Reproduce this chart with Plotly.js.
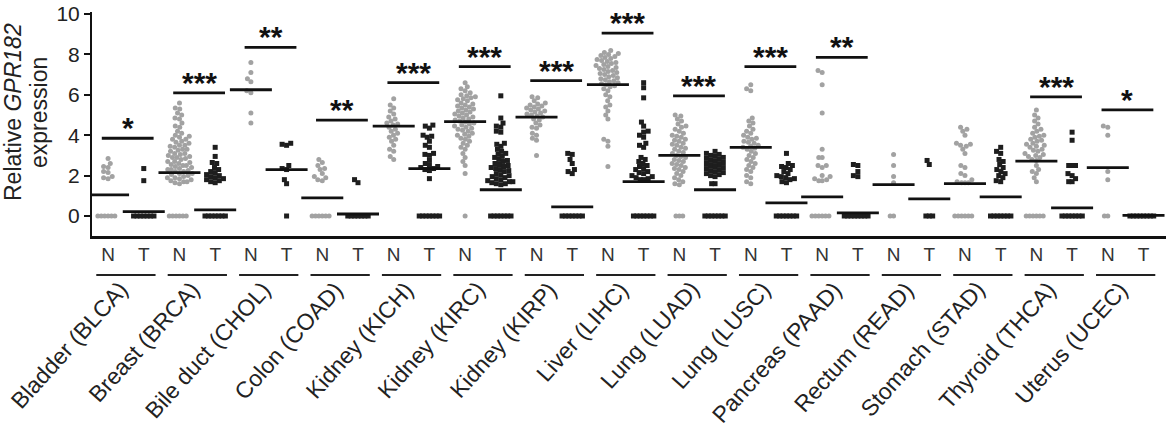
<!DOCTYPE html>
<html>
<head>
<meta charset="utf-8">
<script src="https://cdn.plot.ly/plotly-3.0.1.min.js"></script>
<style>html,body{margin:0;padding:0;background:#fff;}#chart{width:1169px;height:431px;}</style>
</head>
<body>
<div id="chart"></div>
<script>
// ---------------- data ----------------
const cancerTypes = ['Bladder (BLCA)','Breast (BRCA)','Bile duct (CHOL)','Colon (COAD)','Kidney (KICH)',
  'Kidney (KIRC)','Kidney (KIRP)','Liver (LIHC)','Lung (LUAD)','Lung (LUSC)','Pancreas (PAAD)',
  'Rectum (READ)','Stomach (STAD)','Thyroid (THCA)','Uterus (UCEC)'];
const groupLabels = ['N','T'];

const normalValues = [
  [2.85,2.6,2.45,2.4,2.2,2.15,1.95,1.9,1.85,0,0,0,0,0,0],
  [5.6,5.35,5.3,5.1,5.0,4.85,4.8,4.6,4.45,4.4,4.2,4.1,4.0,3.95,3.9,3.8,3.8,3.7,3.65,3.6,3.5,3.5,3.45,3.4,3.3,3.3,3.25,3.2,3.1,3.1,3.05,3.0,2.95,2.9,2.9,2.85,2.8,2.7,2.7,2.65,2.6,2.55,2.5,2.5,2.45,2.4,2.35,2.3,2.3,2.25,2.2,2.2,2.1,2.1,2.05,2.0,1.95,1.9,1.9,1.85,1.8,1.75,1.7,1.7,1.65,1.6,0,0,0,0,0,0],
  [7.6,7.1,6.8,6.65,6.2,6.1,5.1,4.6],
  [2.8,2.65,2.5,2.35,2.3,2.1,1.95,1.9,1.8,1.75,0,0,0,0,0,0],
  [5.8,5.5,5.35,5.2,5.05,4.9,4.8,4.7,4.6,4.55,4.5,4.4,4.3,4.2,4.1,4.0,3.9,3.8,3.7,3.5,3.3,3.2,2.95,2.8],
  [6.6,6.4,6.3,6.2,6.1,6.0,5.95,5.9,5.85,5.8,5.75,5.7,5.6,5.55,5.5,5.45,5.4,5.35,5.3,5.25,5.2,5.15,5.1,5.05,5.0,4.95,4.9,4.85,4.8,4.75,4.7,4.65,4.6,4.55,4.5,4.45,4.4,4.35,4.3,4.25,4.2,4.1,4.05,4.0,3.95,3.85,3.8,3.7,3.6,3.5,3.4,3.3,3.1,2.9,2.7,2.5,2.1,0],
  [5.9,5.85,5.7,5.6,5.55,5.5,5.45,5.4,5.35,5.3,5.25,5.2,5.15,5.1,5.05,5.0,4.95,4.9,4.8,4.75,4.6,4.5,4.4,4.35,4.1,4.0,3.85,3.75,3.0],
  [8.2,8.1,8.05,8.0,7.95,7.9,7.85,7.8,7.75,7.7,7.65,7.6,7.55,7.5,7.45,7.4,7.35,7.3,7.25,7.2,7.15,7.1,7.05,7.0,6.95,6.9,6.85,6.8,6.75,6.7,6.65,6.6,6.55,6.5,6.45,6.4,6.3,6.2,6.0,5.9,5.7,5.5,5.4,5.2,5.0,4.8,3.8,3.7,3.45,2.45],
  [5.0,4.95,4.8,4.7,4.55,4.45,4.4,4.3,4.2,4.1,4.0,3.95,3.9,3.8,3.75,3.7,3.6,3.55,3.5,3.4,3.35,3.3,3.2,3.15,3.1,3.0,2.95,2.9,2.8,2.75,2.7,2.6,2.55,2.5,2.4,2.35,2.3,2.2,2.1,2.0,1.9,1.8,1.7,1.6,1.55,0,0,0],
  [6.5,6.3,6.2,4.85,4.7,4.6,4.45,4.3,4.2,4.1,4.0,3.9,3.85,3.8,3.7,3.65,3.6,3.5,3.45,3.4,3.35,3.3,3.2,3.1,3.0,2.9,2.8,2.7,2.6,2.5,2.4,2.3,2.2,2.0,1.9,1.7,1.6],
  [7.2,7.1,6.5,5.1,3.3,2.9,2.9,2.5,2.5,2.4,2.0,1.95,1.85,1.8,1.75,1.75,0,0,0,0,0,0],
  [3.05,2.5,1.95,1.65,0,0],
  [4.4,4.3,4.2,4.0,3.6,3.55,3.5,3.45,3.3,3.1,2.5,2.4,2.1,2.0,1.8,1.7,1.65,1.65,1.65,0,0,0,0,0,0],
  [5.25,5.0,4.85,4.7,4.55,4.4,4.3,4.2,4.1,4.0,3.95,3.9,3.8,3.75,3.7,3.6,3.55,3.5,3.45,3.4,3.3,3.25,3.2,3.1,3.05,3.0,2.95,2.9,2.8,2.75,2.5,2.3,2.2,2.1,1.9,1.7,0,0,0,0,0,0],
  [4.45,4.4,4.0,2.2,1.8,0,0]
];
const tumorValues = [
  [2.35,1.75,0,0,0,0,0,0,0],
  [3.4,2.95,2.65,2.6,2.4,2.3,2.2,2.15,2.05,2.0,1.95,1.9,1.85,1.8,1.75,1.7,1.65,0,0,0,0,0,0,0],
  [3.6,3.55,3.5,2.5,2.35,2.3,1.8,1.6,0],
  [1.8,1.65,0,0,0,0,0,0,0],
  [4.5,4.45,4.35,4.0,3.95,3.9,3.7,3.5,3.4,3.1,3.05,3.0,2.75,2.6,2.5,2.45,2.4,2.35,2.3,2.25,1.85,0,0,0,0,0,0,0],
  [5.95,4.85,4.6,4.45,4.4,4.2,4.15,3.6,3.55,3.45,3.3,3.2,3.1,3.05,2.95,2.9,2.8,2.75,2.7,2.6,2.55,2.5,2.45,2.4,2.35,2.3,2.25,2.2,2.1,2.05,2.0,1.95,1.9,1.85,1.8,1.75,1.7,1.7,1.65,1.6,1.6,1.55,0,0,0,0,0,0,0],
  [3.1,3.05,2.8,2.6,2.3,2.2,2.1,0,0,0,0,0,0,0],
  [6.6,6.35,5.85,4.65,4.45,4.2,4.15,4.0,3.9,3.6,3.5,3.4,2.9,2.8,2.7,2.6,2.5,2.45,2.35,2.3,2.2,2.15,2.1,2.0,1.95,1.9,1.85,1.8,1.8,0,0,0,0,0,0,0],
  [3.2,3.1,3.05,3.0,2.95,2.9,2.85,2.8,2.75,2.7,2.65,2.6,2.55,2.5,2.45,2.4,2.35,2.3,2.25,2.2,2.15,2.1,2.05,2.0,1.95,1.6,1.6,0,0,0,0,0,0,0],
  [3.1,2.6,2.5,2.45,2.4,2.3,2.2,2.1,2.0,1.95,1.9,1.85,1.8,1.7,1.65,0,0,0,0,0,0,0],
  [2.55,2.5,2.2,2.0,1.95,0,0,0,0,0,0,0,0],
  [2.75,2.55,0,0,0],
  [3.4,3.2,3.1,2.8,2.7,2.55,2.4,2.3,2.2,2.1,2.0,1.9,1.75,1.7,0,0,0,0,0,0,0],
  [4.15,3.75,2.5,2.5,2.5,2.1,2.0,1.85,1.7,1.7,0,0,0,0,0,0,0],
  [0,0,0,0,0,0,0,0]
];
const normalMeans = [1.05,2.15,6.25,0.9,4.45,4.67,4.9,6.5,3.0,3.4,0.95,1.55,1.6,2.72,2.4];
const tumorMeans  = [0.22,0.3,2.3,0.1,2.35,1.3,0.45,1.7,1.3,0.65,0.15,0.85,0.95,0.4,0.03];
const sigStars  = ['*','***','**','**','***','***','***','***','***','***','**','','','***','*'];
const sigLevels = [3.85,6.1,8.35,4.75,6.6,7.4,6.7,9.05,5.95,7.4,7.85,null,null,5.9,5.25];

// ---------------- layout geometry ----------------
const W = 1169, H = 431;
const M = {l: 92, r: 3, t: 12, b: 195};
const xRange = [-0.45, 29.63];
const yRange = [-0.99, 10.1];
const pw = W - M.l - M.r, ph = H - M.t - M.b;
const sx = pw / (xRange[1] - xRange[0]);   // px per x unit
const sy = ph / (yRange[1] - yRange[0]);   // px per y unit
const FONT = 'Liberation Sans, Arial, Helvetica, sans-serif';

// simple beeswarm: offsets (x units) so markers (d px apart) do not overlap; tied values packed tighter
function swarm(vals, d, tieGap) {
  const pts = vals.map((v, i) => ({i, py: v * sy}));
  pts.sort((a, b) => a.py - b.py);
  const placed = [];
  const off = new Array(vals.length).fill(0);
  for (const p of pts) {
    const near = placed.filter(q => Math.abs(q.py - p.py) < d);
    const sep = q => (q.py === p.py ? tieGap : d);
    const cands = [0];
    for (const q of near) {
      const s = sep(q);
      const dy = q.py - p.py;
      if (Math.abs(dy) >= s) continue;
      const dx = Math.sqrt(s * s - dy * dy);
      cands.push(q.x + dx, q.x - dx);
    }
    cands.sort((a, b) => Math.abs(a) - Math.abs(b) || a - b);
    let chosen = 0;
    for (const c of cands) {
      if (near.every(q => Math.hypot(q.x - c, q.py - p.py) >= sep(q) - 1e-6)) { chosen = c; break; }
    }
    p.x = chosen; placed.push(p);
    off[p.i] = chosen / sx;
  }
  return off;
}

const nx = [], ny = [], tx = [], ty = [];
cancerTypes.forEach((c, g) => {
  const on = swarm(normalValues[g], 4.6, 3.4);
  normalValues[g].forEach((v, k) => { nx.push(2 * g + on[k]); ny.push(v); });
  const ot = swarm(tumorValues[g], 4.6, 3.4);
  tumorValues[g].forEach((v, k) => { tx.push(2 * g + 1 + ot[k]); ty.push(v); });
});

const traces = [
  {type: 'scatter', mode: 'markers', x: nx, y: ny, hoverinfo: 'skip',
   marker: {symbol: 'circle', size: 5, color: '#a2a2a2'}},
  {type: 'scatter', mode: 'markers', x: tx, y: ty, hoverinfo: 'skip',
   marker: {symbol: 'square', size: 5, color: '#1e1e1e'}},
  {type: 'scatter', mode: 'markers', hoverinfo: 'skip',
   x: cancerTypes.flatMap((c, g) => [2 * g, 2 * g + 1]),
   y: cancerTypes.flatMap((c, g) => [normalMeans[g], tumorMeans[g]]),
   marker: {symbol: 'line-ew', size: 30, line: {width: 2.8, color: '#111'}}},
  {type: 'scatter', mode: 'markers', hoverinfo: 'skip',
   x: cancerTypes.map((c, g) => 2 * g + 0.55).filter((x, g) => sigLevels[g] !== null),
   y: sigLevels.filter(v => v !== null),
   marker: {symbol: 'line-ew', size: 37, line: {width: 2.8, color: '#111'}}}
];

const annotations = [];
const shapes = [];
cancerTypes.forEach((c, g) => {
  if (sigLevels[g] !== null) {
    annotations.push({xref: 'x', yref: 'y', x: 2 * g + 0.55, y: sigLevels[g], text: '<b>' + sigStars[g] + '</b>',
      showarrow: false, xanchor: 'center', yanchor: 'bottom', yshift: -8,
      font: {family: FONT, size: 30, color: '#111'}});
  }
  annotations.push({xref: 'x', yref: 'paper', x: 2 * g + 0.5, xshift: 10, y: -38 / ph,
    text: c, showarrow: false, textangle: -48, xanchor: 'right', yanchor: 'top',
    font: {family: FONT, size: 23, color: '#222'}});
  shapes.push({type: 'line', xref: 'x', yref: 'paper', x0: 2 * g - 0.33, x1: 2 * g + 1.33,
    y0: -39 / ph, y1: -39 / ph, line: {color: '#222', width: 2}});
});
// y-axis title (two rotated lines)
annotations.push({xref: 'paper', yref: 'paper', x: (13 - M.l) / pw, y: (236 - 112) / ph,
  text: 'Relative <i>GPR182</i>', showarrow: false, textangle: -90,
  xanchor: 'center', yanchor: 'middle', font: {family: FONT, size: 23, color: '#222'}});
annotations.push({xref: 'paper', yref: 'paper', x: (39 - M.l) / pw, y: (236 - 112) / ph,
  text: 'expression', showarrow: false, textangle: -90,
  xanchor: 'center', yanchor: 'middle', font: {family: FONT, size: 23, color: '#222'}});

const layout = {
  width: W, height: H, margin: M, showlegend: false,
  paper_bgcolor: '#fff', plot_bgcolor: '#fff',
  font: {family: FONT, color: '#222'},
  xaxis: {range: xRange, showgrid: false, zeroline: false, showline: true, linecolor: '#111', linewidth: 2.5,
    tickmode: 'array', tickvals: cancerTypes.flatMap((c, g) => [2 * g, 2 * g + 1]),
    ticktext: cancerTypes.flatMap(() => groupLabels), ticks: '', ticklabelstandoff: 0,
    tickfont: {family: FONT, size: 19, color: '#333'}, fixedrange: true},
  yaxis: {range: yRange, showgrid: false, zeroline: false, showline: true, linecolor: '#111', linewidth: 2,
    tickmode: 'array', tickvals: [0, 2, 4, 6, 8, 10], ticks: 'outside', ticklen: 6, tickwidth: 2, tickcolor: '#111',
    tickfont: {family: FONT, size: 21, color: '#222'}, fixedrange: true},
  annotations: annotations, shapes: shapes
};

Plotly.newPlot('chart', traces, layout, {staticPlot: true, displayModeBar: false});
</script>
</body>
</html>
